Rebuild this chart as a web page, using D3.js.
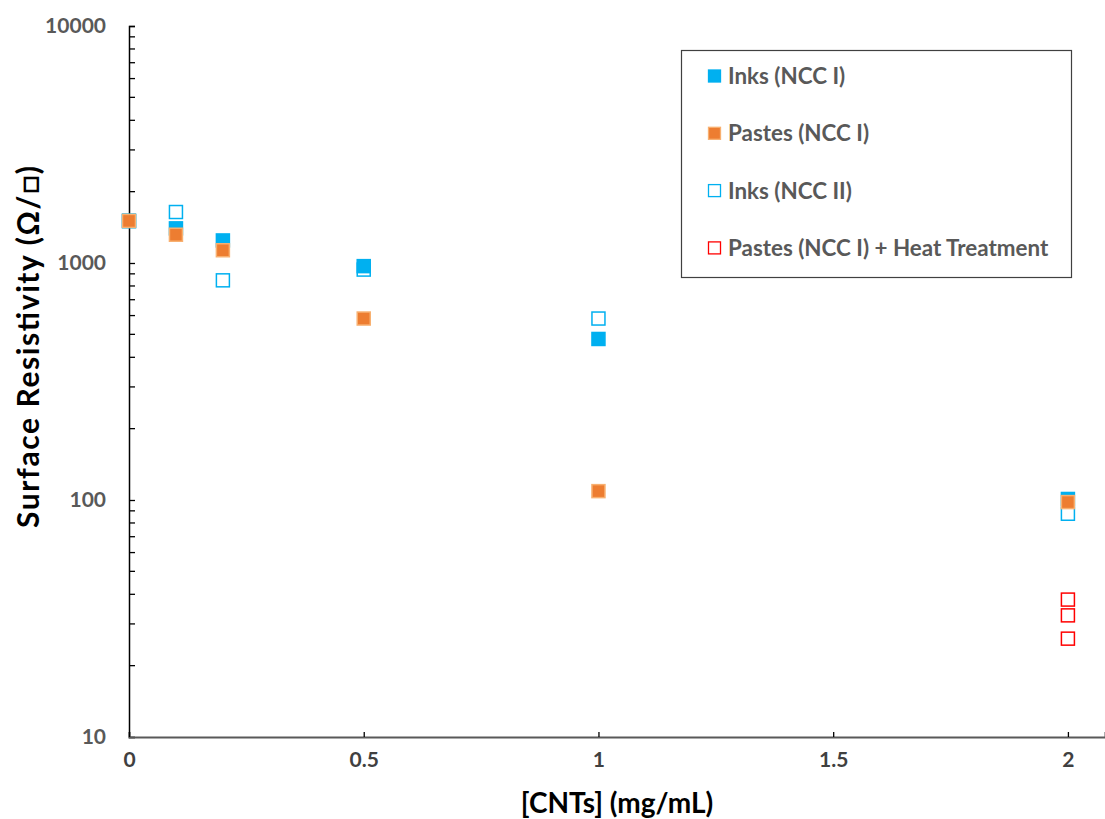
<!DOCTYPE html>
<html>
<head>
<meta charset="utf-8">
<script src="https://cdn.jsdelivr.net/npm/d3@7"></script>
<style>
  body { margin: 0; background: #fff; }
  svg { display: block; font-family: Lato, "Open Sans", sans-serif; }
</style>
</head>
<body>
<svg id="chart"></svg>
<script>
// data
const series_names = ["Inks (NCC I)", "Pastes (NCC I)", "Inks (NCC II)", "Pastes (NCC I) + Heat Treatment"];
const inks_ncc1_x = [0, 0.1, 0.2, 0.5, 1, 2];
const inks_ncc1_y = [1500, 1400, 1245, 970, 478, 101];
const pastes_ncc1_x = [0, 0.1, 0.2, 0.5, 1, 2];
const pastes_ncc1_y = [1505, 1316, 1132, 583, 109, 98];
const inks_ncc2_x = [0, 0.1, 0.2, 0.5, 1, 2];
const inks_ncc2_y = [1510, 1641, 845, 938, 583, 87.5];
const heat_x = [2, 2, 2];
const heat_y = [38, 32.6, 26];
const x_ticks = [0, 0.5, 1, 1.5, 2];
const y_ticks = [10, 100, 1000, 10000];

const width = 1105, height = 819;
const margin = {top: 26, right: 0, bottom: 82, left: 129};
const font = "Lato, 'Open Sans', sans-serif";

const svg = d3.select("#chart").attr("width", width).attr("height", height);
const chart = svg.append("g").attr("transform", `translate(${margin.left}, ${margin.top})`);
const inner_width = width - margin.left - margin.right;
const inner_height = height - margin.top - margin.bottom;

const xscale = d3.scaleLinear().domain([0, 2.079]).range([0, inner_width]);
const yscale = d3.scaleLog().domain([10, 10000]).range([inner_height, 0]);

// minor ticks on the log axis
const minor = [];
[10, 100, 1000].forEach(d => { for (let i = 2; i <= 9; i++) minor.push(d * i); });

chart.append("g")
    .selectAll("line").data(minor).join("line")
    .attr("x1", 0).attr("x2", 6)
    .attr("y1", d => yscale(d)).attr("y2", d => yscale(d))
    .attr("stroke", "#000").attr("stroke-width", 1.3);

// y axis
const yaxis_group = chart.append("g")
    .call(d3.axisLeft(yscale).tickValues(y_ticks).tickFormat(d3.format("d")).tickSize(-6).tickPadding(23));
yaxis_group.attr("font-family", font);
yaxis_group.select(".domain").attr("stroke", "#000").attr("stroke-width", 1.5);
yaxis_group.selectAll(".tick line").attr("stroke", "#000").attr("stroke-width", 1.3);
yaxis_group.selectAll(".tick text")
    .attr("fill", "#595959").attr("font-size", "21px").attr("font-weight", "bold");

// x axis
const xaxis_group = chart.append("g")
    .attr("transform", `translate(0, ${inner_height})`)
    .call(d3.axisBottom(xscale).tickValues(x_ticks).tickFormat(d3.format("")).tickSize(-5).tickPadding(15));
xaxis_group.attr("font-family", font);
xaxis_group.select(".domain").attr("stroke", "#595959").attr("stroke-width", 2);
xaxis_group.selectAll(".tick line").attr("stroke", "#000").attr("stroke-width", 1.3);
xaxis_group.selectAll(".tick text")
    .attr("fill", "#404040").attr("font-size", "21px").attr("font-weight", "bold");

// axis titles
chart.append("text")
    .attr("x", inner_width / 2).attr("y", inner_height + 76)
    .attr("text-anchor", "middle")
    .attr("font-size", "28px").attr("font-weight", "bold").attr("fill", "#000")
    .text("[CNTs] (mg/mL)");

chart.append("text")
    .attr("transform", "rotate(-90)")
    .attr("x", -(347 - margin.top)).attr("y", -margin.left + 39)
    .attr("text-anchor", "middle")
    .attr("font-size", "30px").attr("font-weight", "bold").attr("fill", "#000")
    .attr("textLength", 362).attr("lengthAdjust", "spacing")
    .text("Surface Resistivity (Ω/□)");

// points
const blue = "#00B0F0", orange = "#ED7D31", red = "#FF0000";
const styles = [
    {fill: blue, stroke: blue},
    {fill: orange, stroke: "#F8B070"},
    {fill: "#fff", stroke: blue},
    {fill: "#fff", stroke: red}
];
const table = [
    d3.zip(inks_ncc1_x, inks_ncc1_y),
    d3.zip(pastes_ncc1_x, pastes_ncc1_y),
    d3.zip(inks_ncc2_x, inks_ncc2_y),
    d3.zip(heat_x, heat_y)
];
const size = 13;
const draw_order = [2, 0, 1, 3];
draw_order.forEach(i => {
    chart.append("g").selectAll("rect").data(table[i]).join("rect")
        .attr("x", d => xscale(d[0]) - size / 2)
        .attr("y", d => yscale(d[1]) - size / 2)
        .attr("width", size).attr("height", size)
        .attr("fill", styles[i].fill)
        .attr("stroke", styles[i].stroke)
        .attr("stroke-width", 1.5);
});

// legend
const legend = svg.append("g").attr("transform", "translate(681, 50)");
legend.append("rect")
    .attr("x", 0.5).attr("y", 0.5).attr("width", 390).attr("height", 227)
    .attr("fill", "#fff").attr("stroke", "#404040").attr("stroke-width", 1.2);
const rows = legend.selectAll("g.row").data(series_names).join("g")
    .attr("transform", (d, i) => `translate(0, ${26 + i * 57.3})`);
rows.append("rect")
    .attr("x", 27.5).attr("y", -6).attr("width", 12).attr("height", 12)
    .attr("fill", (d, i) => styles[i].fill)
    .attr("stroke", (d, i) => styles[i].stroke)
    .attr("stroke-width", 1.3);
rows.append("text")
    .attr("x", 47).attr("y", 0).attr("dy", "0.36em")
    .attr("font-size", "22.4px").attr("font-weight", "bold").attr("fill", "#595959")
    .text(d => d);
</script>
</body>
</html>
